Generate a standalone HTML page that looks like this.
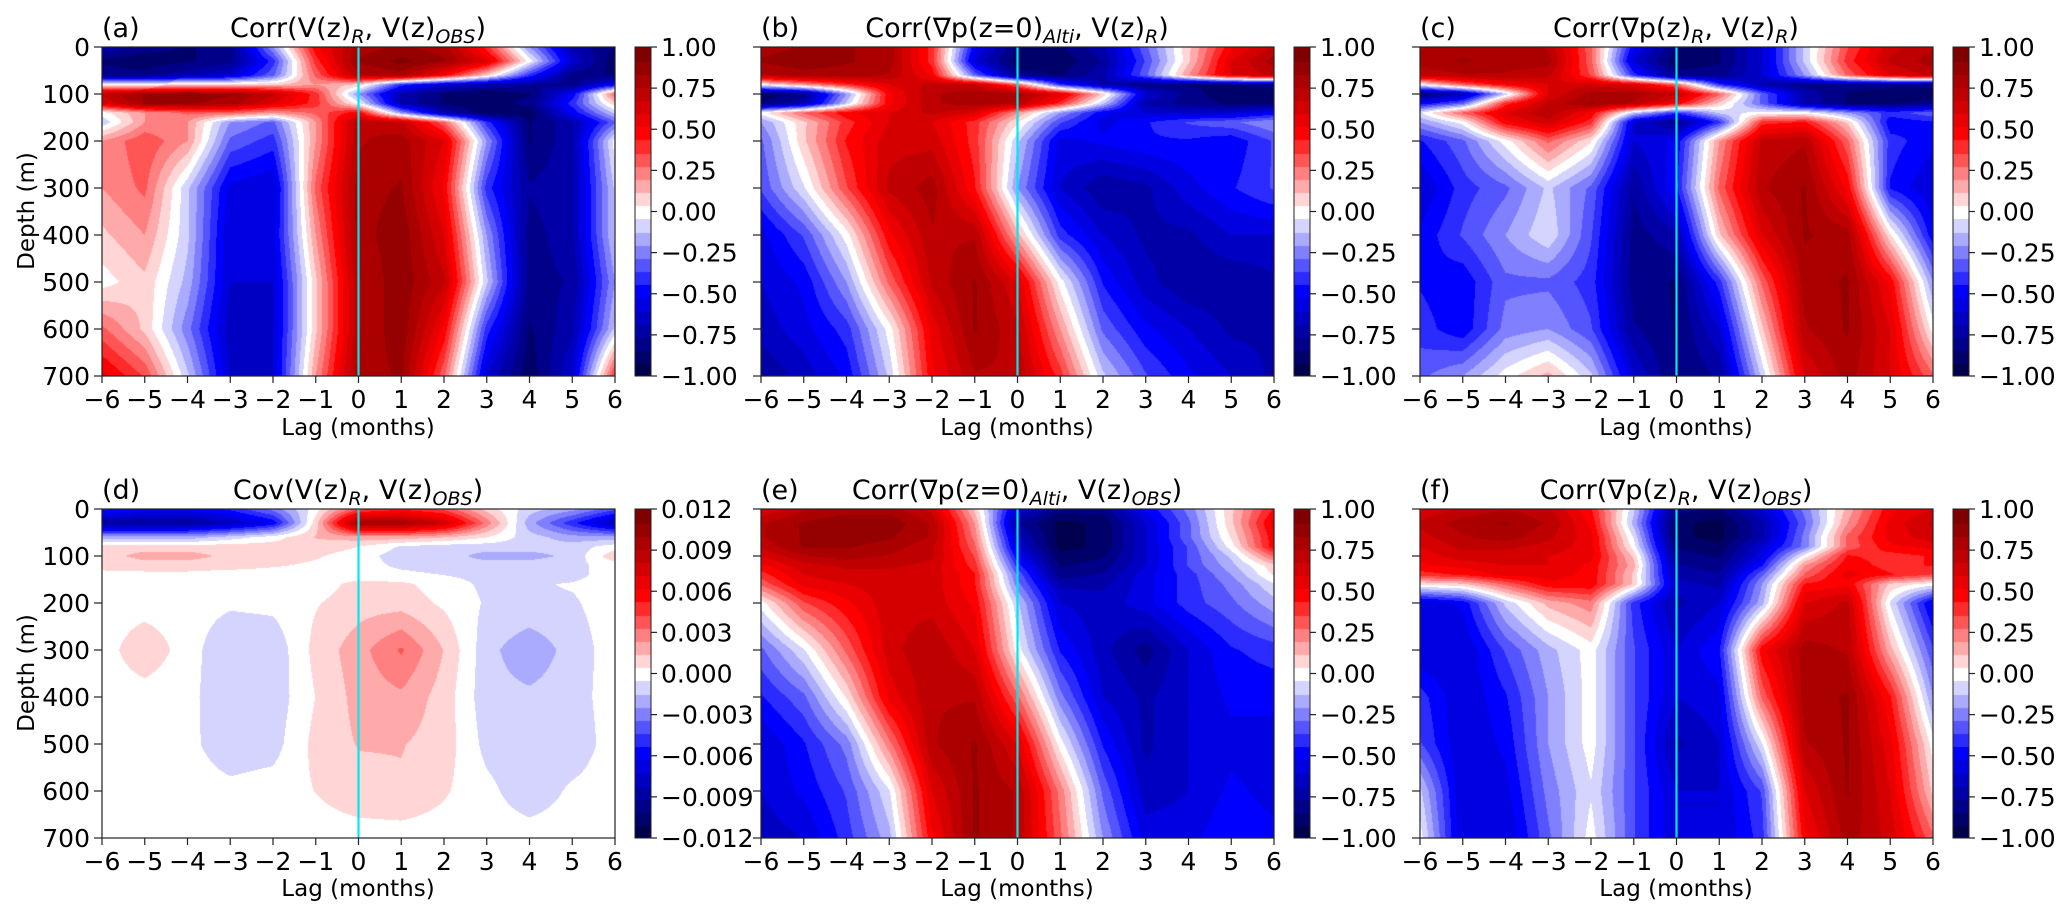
<!DOCTYPE html>
<html><head><meta charset="utf-8">
<style>
html,body{margin:0;padding:0;background:#fff;}
#root{position:relative;width:2067px;height:919px;overflow:hidden;background:#fff;font-family:"DejaVu Sans","Liberation Sans",sans-serif;}
canvas{position:absolute;}
svg{position:absolute;left:0;top:0;}
</style></head>
<body>
<div id="root">
<svg id="ov" width="2067" height="919" font-family="DejaVu Sans, Liberation Sans, sans-serif" fill="#000">
 <g font-size="27">
  <text x="102" y="37">(a)</text>
  <text x="358" y="37" text-anchor="middle">Corr(V(z)<tspan font-size="19" font-style="italic" dy="6">R</tspan><tspan dy="-6">, V(z)</tspan><tspan font-size="19" font-style="italic" dy="6">OBS</tspan><tspan dy="-6">)</tspan></text>
  <text x="761" y="37">(b)</text>
  <text x="1017" y="37" text-anchor="middle">Corr(∇p(z=0)<tspan font-size="19" font-style="italic" dy="6">Alti</tspan><tspan dy="-6">, V(z)</tspan><tspan font-size="19" font-style="italic" dy="6">R</tspan><tspan dy="-6">)</tspan></text>
  <text x="1420" y="37">(c)</text>
  <text x="1676" y="37" text-anchor="middle">Corr(∇p(z)<tspan font-size="19" font-style="italic" dy="6">R</tspan><tspan dy="-6">, V(z)</tspan><tspan font-size="19" font-style="italic" dy="6">R</tspan><tspan dy="-6">)</tspan></text>
  <text x="102" y="499">(d)</text>
  <text x="358" y="499" text-anchor="middle">Cov(V(z)<tspan font-size="19" font-style="italic" dy="6">R</tspan><tspan dy="-6">, V(z)</tspan><tspan font-size="19" font-style="italic" dy="6">OBS</tspan><tspan dy="-6">)</tspan></text>
  <text x="761" y="499">(e)</text>
  <text x="1017" y="499" text-anchor="middle">Corr(∇p(z=0)<tspan font-size="19" font-style="italic" dy="6">Alti</tspan><tspan dy="-6">, V(z)</tspan><tspan font-size="19" font-style="italic" dy="6">OBS</tspan><tspan dy="-6">)</tspan></text>
  <text x="1420" y="499">(f)</text>
  <text x="1676" y="499" text-anchor="middle">Corr(∇p(z)<tspan font-size="19" font-style="italic" dy="6">R</tspan><tspan dy="-6">, V(z)</tspan><tspan font-size="19" font-style="italic" dy="6">OBS</tspan><tspan dy="-6">)</tspan></text>
 </g>
 <g font-size="23" text-anchor="middle">
  <text x="358" y="435">Lag (months)</text>
  <text x="1017" y="435">Lag (months)</text>
  <text x="1676" y="435">Lag (months)</text>
  <text x="358" y="896">Lag (months)</text>
  <text x="1017" y="896">Lag (months)</text>
  <text x="1676" y="896">Lag (months)</text>
  <text transform="translate(34,211) rotate(-90)">Depth (m)</text>
  <text transform="translate(34,673) rotate(-90)">Depth (m)</text>
 </g>
 <g id="axes"></g>
</svg>
</div>
<script>
const lags=[-6,-5,-4,-3,-2,-1,0,1,2,3,4,5,6];
const depths=[0,30,60,80,100,120,140,160,200,300,400,500,600,700];
const xTicks=[-6,-5,-4,-3,-2,-1,0,1,2,3,4,5,6];
const yTicks=[0,100,200,300,400,500,600,700];
const corrTicks=[-1,-0.75,-0.5,-0.25,0,0.25,0.5,0.75,1];
const covTicks=[-0.012,-0.009,-0.006,-0.003,0,0.003,0.006,0.009,0.012];

const fieldA=[
[-0.7,-0.8,-0.85,-0.8,-0.2,0.5,0.8,0.85,0.8,0.4,-0.2,-0.7,-0.85],
[-0.85,-0.9,-0.85,-0.8,-0.4,0.4,0.85,0.95,0.85,0.6,0.0,-0.6,-0.9],
[-0.8,-0.8,-0.7,-0.6,-0.3,0.3,0.75,0.8,0.5,0.1,-0.4,-0.8,-0.85],
[0.0,0.0,0.1,0.1,0.1,0.2,0.1,-0.4,-0.6,-0.7,-0.75,-0.8,-0.5],
[0.7,0.85,0.9,0.85,0.7,0.4,-0.2,-0.7,-0.85,-0.9,-0.85,-0.5,0.3],
[0.6,0.85,0.85,0.8,0.6,0.4,0.0,-0.7,-0.85,-0.9,-0.8,-0.4,0.1],
[0.0,0.2,0.3,0.3,0.2,0.3,0.5,-0.2,-0.7,-0.9,-0.9,-0.5,-0.1],
[-0.1,0.2,0.2,-0.2,-0.3,0.2,0.75,0.7,0.3,-0.4,-0.85,-0.7,-0.3],
[0.2,0.35,0.2,-0.3,-0.4,0.2,0.75,0.8,0.6,-0.2,-0.85,-0.7,0.0],
[0.2,0.3,-0.1,-0.55,-0.6,0.3,0.8,0.85,0.5,-0.4,-0.75,-0.7,-0.1],
[0.1,0.2,-0.1,-0.6,-0.55,0.2,0.8,0.9,0.6,-0.2,-0.8,-0.7,-0.1],
[0.0,0.1,-0.15,-0.6,-0.6,0.1,0.75,0.9,0.7,-0.1,-0.8,-0.75,-0.2],
[0.3,0.1,-0.25,-0.65,-0.6,0.1,0.75,0.9,0.5,-0.4,-0.85,-0.7,-0.1],
[0.55,0.35,-0.1,-0.6,-0.6,0.2,0.8,0.85,0.3,-0.6,-0.9,-0.6,0.4]];

const fieldB=[
[0.8,0.85,0.85,0.8,0.4,-0.5,-0.85,-0.85,-0.7,-0.3,0.1,0.5,0.7],
[0.85,0.9,0.85,0.8,0.4,-0.6,-0.9,-0.9,-0.75,-0.35,0.1,0.6,0.8],
[0.75,0.8,0.8,0.75,0.5,-0.3,-0.8,-0.85,-0.7,-0.3,0.2,0.6,0.7],
[0.0,0.2,0.4,0.6,0.7,0.7,0.3,-0.4,-0.7,-0.8,-0.85,-0.85,-0.8],
[-0.9,-0.8,-0.2,0.5,0.75,0.8,0.8,0.6,0.1,-0.6,-0.8,-0.9,-0.9],
[-0.85,-0.7,-0.1,0.5,0.75,0.8,0.75,0.4,-0.1,-0.7,-0.8,-0.85,-0.85],
[0.0,0.3,0.5,0.6,0.7,0.6,0.2,-0.2,-0.5,-0.6,-0.6,-0.6,-0.5],
[-0.2,0.1,0.4,0.6,0.6,0.4,0.05,-0.35,-0.55,-0.45,-0.35,-0.3,-0.2],
[-0.3,0.1,0.45,0.65,0.65,0.4,-0.1,-0.55,-0.5,-0.45,-0.45,-0.5,-0.35],
[-0.35,-0.05,0.35,0.7,0.8,0.45,-0.2,-0.6,-0.75,-0.7,-0.55,-0.45,-0.35],
[-0.55,-0.35,0.0,0.5,0.75,0.75,0.15,-0.4,-0.6,-0.7,-0.7,-0.6,-0.6],
[-0.6,-0.5,-0.2,0.3,0.7,0.85,0.6,0.0,-0.45,-0.65,-0.75,-0.75,-0.7],
[-0.65,-0.55,-0.4,0.0,0.55,0.85,0.7,0.2,-0.3,-0.5,-0.6,-0.7,-0.7],
[-0.75,-0.65,-0.5,-0.1,0.5,0.75,0.75,0.4,-0.1,-0.35,-0.5,-0.6,-0.7]];

const fieldC=[
[0.75,0.8,0.8,0.75,0.3,-0.5,-0.85,-0.85,-0.6,-0.1,0.35,0.65,0.75],
[0.8,0.85,0.8,0.8,0.3,-0.6,-0.9,-0.85,-0.6,-0.1,0.4,0.7,0.8],
[0.7,0.75,0.75,0.7,0.35,-0.4,-0.8,-0.8,-0.6,-0.2,0.3,0.6,0.7],
[0.0,0.3,0.5,0.6,0.65,0.6,0.3,-0.4,-0.7,-0.8,-0.8,-0.8,-0.8],
[-0.85,-0.7,-0.1,0.6,0.8,0.8,0.7,0.3,-0.3,-0.7,-0.85,-0.9,-0.9],
[-0.5,-0.3,0.4,0.7,0.85,0.75,0.5,0.1,-0.3,-0.7,-0.85,-0.85,-0.8],
[-0.05,0.3,0.6,0.75,0.5,-0.1,-0.4,-0.1,0.0,0.0,-0.2,-0.4,-0.3],
[-0.2,0.0,0.5,0.65,0.4,-0.6,-0.8,-0.4,0.4,0.45,0.1,-0.5,-0.45],
[-0.45,-0.3,0.0,0.3,0.05,-0.6,-0.5,0.2,0.7,0.75,0.3,-0.4,-0.5],
[-0.6,-0.4,-0.3,-0.1,-0.3,-0.75,-0.45,0.3,0.75,0.85,0.5,-0.45,-0.6],
[-0.5,-0.35,-0.2,-0.05,-0.35,-0.8,-0.7,0.1,0.6,0.85,0.8,0.05,-0.5],
[-0.45,-0.5,-0.3,-0.3,-0.4,-0.8,-0.85,-0.4,0.3,0.8,0.85,0.5,-0.2],
[-0.4,-0.5,-0.25,-0.2,-0.35,-0.75,-0.85,-0.6,0.1,0.75,0.85,0.6,0.0],
[-0.3,-0.2,0.0,0.15,-0.1,-0.6,-0.85,-0.75,-0.1,0.6,0.8,0.6,0.3]];

const fieldD=[
[-0.005,-0.006,-0.006,-0.005,-0.003,0.0,0.004,0.005,0.004,0.001,-0.001,-0.002,-0.004],
[-0.009,-0.009,-0.009,-0.008,-0.006,0.001,0.010,0.010,0.008,0.003,-0.002,-0.005,-0.008],
[-0.002,-0.002,-0.002,-0.001,0.0,0.0015,0.002,0.002,0.0015,0.0005,-0.001,-0.002,-0.002],
[0.001,0.001,0.001,0.001,0.001,0.001,0.0005,-0.0006,-0.001,-0.001,-0.001,-0.001,0.0],
[0.001,0.0018,0.0018,0.0012,0.001,0.0006,0.0,-0.001,-0.001,-0.0018,-0.0018,-0.0012,0.0012],
[0.0008,0.001,0.001,0.0009,0.0006,0.0003,0.0,-0.0007,-0.001,-0.001,-0.001,-0.0008,0.0],
[0.0002,0.0002,0.0002,0.0,0.0,0.0,0.0,-0.0002,-0.0005,-0.0008,-0.0009,-0.0008,0.0],
[0,0,0,0,0,0,0.0008,0.0007,0.0,-0.0007,-0.0006,-0.0004,0],
[0,0,0,-0.0003,-0.0002,0.0004,0.001,0.001,0.0003,-0.0006,-0.0006,-0.0006,0],
[0,0.0012,0,-0.0014,-0.0012,0.0008,0.002,0.0035,0.0014,-0.0011,-0.0022,-0.001,0],
[0,0,-0.0002,-0.0012,-0.0011,0.0005,0.0018,0.0022,0.001,-0.0011,-0.0012,-0.0009,0],
[0,0,-0.0002,-0.0011,-0.0009,0.0008,0.0015,0.0015,0.001,-0.0008,-0.0012,-0.0011,0],
[0,0,0,-0.0002,0,0.0005,0.0011,0.0013,0.0006,-0.0002,-0.0011,-0.0003,0],
[0,0,0,0,0,0,0,0,0,0,0,0,0]];

const fieldE=[
[0.6,0.75,0.8,0.8,0.65,0.1,-0.6,-0.8,-0.8,-0.5,-0.25,0.1,0.45],
[0.75,0.85,0.9,0.9,0.75,0.2,-0.75,-0.95,-0.9,-0.6,-0.3,0.1,0.55],
[0.75,0.85,0.9,0.85,0.75,0.25,-0.65,-0.95,-0.9,-0.6,-0.3,0.05,0.5],
[0.7,0.85,0.85,0.8,0.7,0.3,-0.6,-0.95,-0.9,-0.6,-0.35,0.0,0.5],
[0.6,0.75,0.8,0.75,0.7,0.35,-0.5,-0.9,-0.85,-0.6,-0.35,-0.1,0.3],
[0.5,0.65,0.7,0.7,0.65,0.4,-0.4,-0.85,-0.8,-0.6,-0.35,-0.15,0.1],
[0.4,0.6,0.65,0.65,0.65,0.45,-0.3,-0.8,-0.75,-0.55,-0.4,-0.2,0.05],
[0.3,0.55,0.6,0.65,0.65,0.45,-0.25,-0.7,-0.7,-0.55,-0.4,-0.25,-0.05],
[0.0,0.35,0.5,0.65,0.65,0.5,-0.1,-0.6,-0.65,-0.55,-0.4,-0.3,-0.15],
[-0.3,-0.05,0.3,0.65,0.75,0.6,0.0,-0.45,-0.65,-0.8,-0.6,-0.45,-0.4],
[-0.45,-0.3,0.05,0.55,0.75,0.75,0.3,-0.25,-0.6,-0.7,-0.6,-0.5,-0.5],
[-0.6,-0.45,-0.25,0.25,0.75,0.85,0.6,0.0,-0.45,-0.7,-0.6,-0.55,-0.55],
[-0.6,-0.5,-0.35,-0.05,0.6,0.85,0.75,0.25,-0.3,-0.65,-0.6,-0.5,-0.55],
[-0.65,-0.6,-0.4,-0.15,0.5,0.85,0.75,0.3,-0.2,-0.55,-0.55,-0.45,-0.5]];

const fieldF=[
[0.6,0.7,0.75,0.7,0.45,-0.1,-0.8,-0.85,-0.6,-0.25,0.15,0.5,0.6],
[0.7,0.8,0.85,0.75,0.5,-0.15,-0.9,-0.95,-0.7,-0.3,0.2,0.55,0.7],
[0.65,0.75,0.8,0.7,0.55,-0.05,-0.9,-0.95,-0.7,-0.25,0.3,0.55,0.65],
[0.6,0.7,0.7,0.65,0.55,0.0,-0.85,-0.9,-0.6,-0.25,0.3,0.5,0.55],
[0.55,0.65,0.65,0.6,0.55,0.1,-0.8,-0.85,-0.55,0.0,0.45,0.4,0.45],
[0.5,0.55,0.6,0.6,0.5,0.15,-0.75,-0.8,-0.45,0.2,0.5,0.4,0.45],
[0.4,0.45,0.55,0.55,0.5,0.1,-0.7,-0.75,-0.3,0.3,0.55,0.45,0.35],
[0.05,0.1,0.3,0.5,0.5,0.1,-0.65,-0.7,-0.2,0.45,0.5,0.1,0.0],
[-0.6,-0.5,-0.1,0.15,0.25,-0.4,-0.7,-0.6,-0.15,0.6,0.7,-0.05,-0.55],
[-0.6,-0.6,-0.35,-0.15,0.0,-0.35,-0.6,-0.45,0.5,0.8,0.75,0.15,-0.35],
[-0.4,-0.6,-0.45,-0.2,0.0,-0.35,-0.6,-0.55,0.3,0.8,0.85,0.45,-0.2],
[-0.35,-0.6,-0.5,-0.2,0.0,-0.35,-0.7,-0.6,-0.05,0.75,0.85,0.55,0.0],
[-0.1,-0.6,-0.55,-0.25,-0.05,-0.35,-0.6,-0.6,-0.35,0.6,0.85,0.6,0.1],
[0.0,-0.6,-0.6,-0.3,0.0,-0.35,-0.6,-0.6,-0.4,0.5,0.8,0.65,0.3]];

const NB=25, W=513, H=329, DMAX=700;
const panels=[
 {id:'a',f:fieldA,x:102,y:47,lo:-1,hi:1,ticks:corrTicks,dec:2,ylab:true},
 {id:'b',f:fieldB,x:761,y:47,lo:-1,hi:1,ticks:corrTicks,dec:2,ylab:false},
 {id:'c',f:fieldC,x:1420,y:47,lo:-1,hi:1,ticks:corrTicks,dec:2,ylab:false},
 {id:'d',f:fieldD,x:102,y:509,lo:-0.012,hi:0.012,ticks:covTicks,dec:3,ylab:true},
 {id:'e',f:fieldE,x:761,y:509,lo:-1,hi:1,ticks:corrTicks,dec:2,ylab:false},
 {id:'f',f:fieldF,x:1420,y:509,lo:-1,hi:1,ticks:corrTicks,dec:2,ylab:false}];

function seismic(t){
  const s=[[0,0,0,0.3],[0.25,0,0,1],[0.5,1,1,1],[0.75,1,0,0],[1,0.5,0,0]];
  for(let i=0;i<4;i++){ if(t<=s[i+1][0]){ const u=(t-s[i][0])/(s[i+1][0]-s[i][0]);
    return [0,1,2].map(k=>Math.round(255*(s[i][k+1]+(s[i+1][k+1]-s[i][k+1])*u))); } }
  return [128,0,0];
}
const bandColors=[]; for(let i=0;i<NB;i++) bandColors.push(seismic(i/(NB-1)));
function bandOf(v,lo,hi){ let b=Math.floor((v-lo)/(hi-lo)*NB); return Math.max(0,Math.min(NB-1,b)); }

function xScale(p,lag){ return p.x+(lag-lags[0])/(lags[lags.length-1]-lags[0])*W; }
function yScale(p,d){ return p.y+d/DMAX*H; }
function sample(f,lag,d){
  let fi=(lag-lags[0]); let i=Math.min(lags.length-2,Math.max(0,Math.floor(fi))); let u=fi-i;
  let j=0; while(j<depths.length-2 && d>depths[j+1]) j++;
  let v=(d-depths[j])/(depths[j+1]-depths[j]); v=Math.max(0,Math.min(1,v));
  const a=f[j][i],b=f[j][i+1],c=f[j+1][i],e=f[j+1][i+1];
  return (a*(1-u)+b*u)*(1-v)+(c*(1-u)+e*u)*v;
}
const root=document.getElementById('root');
const axes=document.getElementById('axes');
const NS='http://www.w3.org/2000/svg';
function sv(tag,attrs){const e=document.createElementNS(NS,tag);for(const k in attrs)e.setAttribute(k,attrs[k]);axes.appendChild(e);return e;}
function fmt(v,dec){ const s=Math.abs(v).toFixed(dec); return (v<-1e-9?'\u2212':'')+s; }

panels.forEach(p=>{
  const cv=document.createElement('canvas'); cv.width=W; cv.height=H;
  cv.style.left=p.x+'px'; cv.style.top=p.y+'px';
  
  
  root.insertBefore(cv,root.firstChild);
  const ctx=cv.getContext('2d'); const img=ctx.createImageData(W,H);
  for(let py=0;py<H;py++){ const d=(py+0.5)/H*DMAX;
    for(let px=0;px<W;px++){ const lag=lags[0]+(px+0.5)/W*(lags[lags.length-1]-lags[0]);
      const c=bandColors[bandOf(sample(p.f,lag,d),p.lo,p.hi)]; const o=(py*W+px)*4;
      img.data[o]=c[0];img.data[o+1]=c[1];img.data[o+2]=c[2];img.data[o+3]=255; } }
  ctx.putImageData(img,0,0);
  const cb=document.createElement('canvas'); cb.width=16; cb.height=H;
  cb.style.left=(p.x+533)+'px'; cb.style.top=p.y+'px';
  
  
  root.insertBefore(cb,root.firstChild);
  const cx=cb.getContext('2d');
  for(let i=0;i<NB;i++){ const c=bandColors[i]; cx.fillStyle='rgb('+c.join(',')+')';
    const y0=H-(i+1)/NB*H; cx.fillRect(0,Math.floor(y0),16,Math.ceil(H/NB)+1); }
  const zl=sv('line',{x1:xScale(p,0),x2:xScale(p,0),y1:p.y,y2:p.y+H,stroke:'#00e8f0','stroke-width':2.2});
  
  
  const fr=sv('rect',{x:p.x,y:p.y,width:W,height:H,fill:'none',stroke:'#222','stroke-width':1.2});
  
  
  const cf=sv('rect',{x:p.x+533,y:p.y,width:16,height:H,fill:'none',stroke:'#222','stroke-width':1});
  
  
  xTicks.forEach(t=>{ const x=xScale(p,t);
    sv('line',{x1:x,x2:x,y1:p.y+H,y2:p.y+H+7,stroke:'#222','stroke-width':1.2});
    const tx=sv('text',{x:x,y:p.y+H+32,'text-anchor':'middle','font-size':25}); tx.textContent=fmt(t,0);
    
     });
  yTicks.forEach(t=>{ const y=yScale(p,t);
    sv('line',{x1:p.x-8,x2:p.x,y1:y,y2:y,stroke:'#222','stroke-width':1.2});
    if(p.ylab){ const tx=sv('text',{x:p.x-12,y:y+9,'text-anchor':'end','font-size':25}); tx.textContent=String(t);
      
       } });
  p.ticks.forEach(t=>{ const y=p.y+H-(t-p.lo)/(p.hi-p.lo)*H; const x0=p.x+549;
    sv('line',{x1:x0,x2:x0+6,y1:y,y2:y,stroke:'#222','stroke-width':1.2});
    const tx=sv('text',{x:x0+10,y:y+9,'font-size':25}); tx.textContent=fmt(t,p.dec);
    
     });
});
</script>
</body></html>
